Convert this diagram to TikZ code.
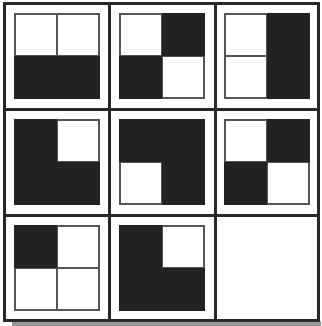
\documentclass[tikz,border=0pt]{standalone}
\definecolor{blk}{RGB}{34,34,32}
\definecolor{gridc}{RGB}{40,40,40}
\definecolor{innerc}{RGB}{85,85,85}
\definecolor{shadowc}{RGB}{150,150,150}
\tikzset{
  gridline/.style={draw=gridc, line width=3pt},
  innerline/.style={draw=innerc, line width=1.3pt},
}
% #3..#6: 1 = black, 0 = white (TL, TR, BL, BR)
\newcommand\tilepat[6]{%
  \begin{scope}[shift={(#1,#2)}]
    \draw[innerline] (0,0) rectangle (84,84) (42,0) -- (42,84) (0,42) -- (84,42);
    \ifnum#3=1 \fill[blk] (-0.65,-0.65) rectangle (42.4,42.4);\fi
    \ifnum#4=1 \fill[blk] (41.6,-0.65) rectangle (84.65,42.4);\fi
    \ifnum#5=1 \fill[blk] (-0.65,41.6) rectangle (42.4,84.65);\fi
    \ifnum#6=1 \fill[blk] (41.6,41.6) rectangle (84.65,84.65);\fi
  \end{scope}}
\begin{document}
\begin{tikzpicture}[x=1pt,y=-1pt]
  \useasboundingbox (0,0) rectangle (321,326);
  \fill[white] (0,0) rectangle (321,326);
  \fill[shadowc] (12,321) rectangle (321,326);
  \fill[white] (4,4) rectangle (318,320);
  % row 1
  \tilepat{15}{14}{0}{0}{1}{1}
  \tilepat{120}{14}{0}{1}{1}{0}
  \tilepat{225}{14}{0}{1}{0}{1}
  % row 2
  \tilepat{15}{120}{1}{0}{1}{1}
  \tilepat{120}{120}{1}{1}{0}{1}
  \tilepat{225}{120}{0}{1}{1}{0}
  % row 3
  \tilepat{15}{226}{1}{0}{0}{0}
  \tilepat{120}{226}{1}{0}{1}{1}
  % grid
  \draw[gridline] (4,4) rectangle (318,320);
  \draw[gridline] (109.5,4) -- (109.5,320) (215,4) -- (215,320);
  \draw[gridline] (4,109.5) -- (318,109.5) (4,215) -- (318,215);
\end{tikzpicture}
\end{document}
